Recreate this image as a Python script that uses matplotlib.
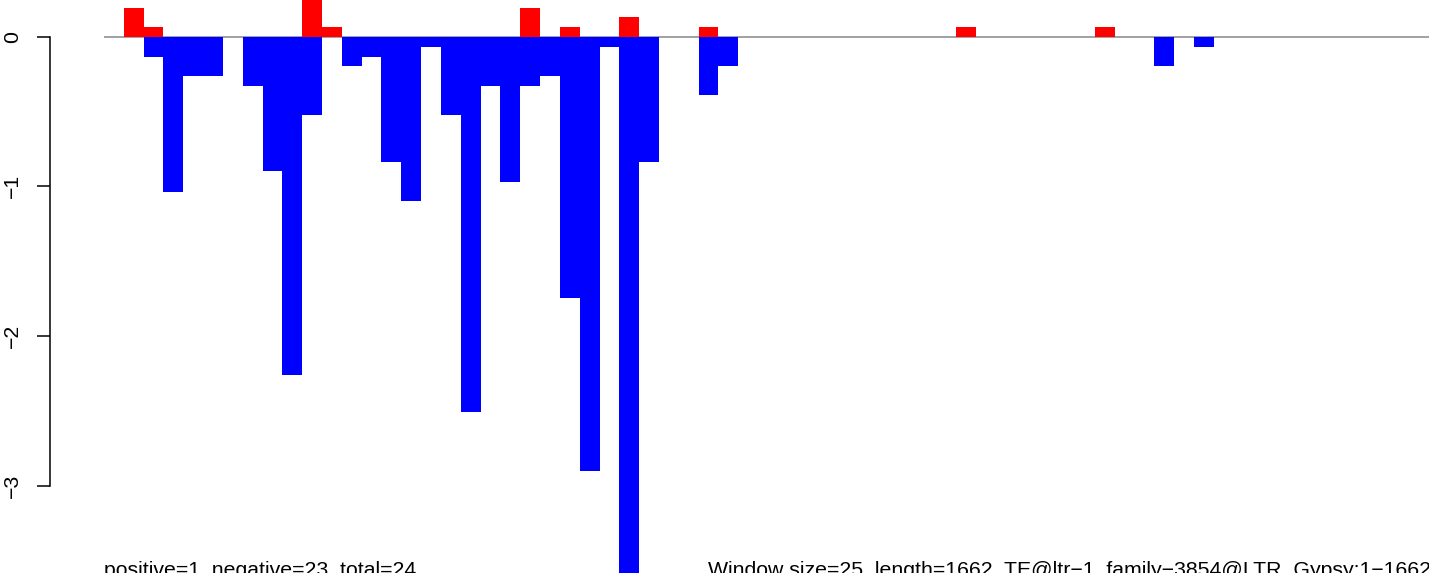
import matplotlib
matplotlib.use("Agg")
import matplotlib.pyplot as plt

plt.rcParams['font.family'] = ['Liberation Sans', 'DejaVu Sans']

# window index -> value
n_windows = 67
pos_idx = [1, 2, 10, 11, 21, 23, 26, 30, 43, 50]
pos_vals = [0.19, 0.065, 0.26, 0.065, 0.19, 0.065, 0.13, 0.065, 0.065, 0.065]
neg_idx = [2, 3, 4, 5, 7, 8, 9, 10, 12, 13, 14, 15, 16, 17, 18, 19, 20,
           21, 22, 23, 24, 25, 26, 27, 30, 31, 53, 55]
neg_vals = [-0.134, -1.035, -0.26, -0.26, -0.327, -0.90, -2.26, -0.52,
            -0.196, -0.134, -0.84, -1.10, -0.069, -0.52, -2.51, -0.327,
            -0.97, -0.327, -0.26, -1.743, -2.90, -0.069, -3.75, -0.84,
            -0.39, -0.196, -0.196, -0.069]
yticks = [0, -1, -2, -3]
left_text = "positive=1, negative=23, total=24"
right_text = "Window size=25, length=1662, TE@ltr\u22121_family\u22123854@LTR_Gypsy:1\u22121662"

W, H = 1429, 573
fig = plt.figure(figsize=(W / 100, H / 100), dpi=100)
ax = fig.add_axes([0, 0, 1, 1])

# pixel geometry of the original
x0, bw = 104.0, 19.82      # left edge of window 0, px per window
y0, yu = 36.7, 149.7       # px of y=0, px per unit
ax.set_xlim(-x0 / bw, (W - x0) / bw)
ax.set_ylim(-(H - y0) / yu, y0 / yu)

ax.hlines(0, 0, n_windows, color="#999999", lw=1.3, zorder=1)
ax.bar(pos_idx, pos_vals, width=1, align="edge", color="#FF0000", lw=0, zorder=2)
ax.bar(neg_idx, neg_vals, width=1, align="edge", color="#0000FF", lw=0, zorder=2)

for s in ["top", "right", "bottom"]:
    ax.spines[s].set_visible(False)
ax.spines["left"].set_position(("data", (50 - x0) / bw))
ax.spines["left"].set_bounds(-3, 0)
ax.spines["left"].set_linewidth(1.1)
ax.set_xticks([])
ax.set_yticks(yticks)
ax.set_yticklabels([f"{t:d}".replace("-", "\u2212") for t in yticks],
                   rotation=90, va="center", fontsize=15.3)
ax.tick_params(axis="y", length=9.4, width=1.1, pad=11)

# the original is cropped at the bottom, so these sit on the edge
fig.text(x0 / W, -3.0 / H, left_text, fontsize=15.3, va="baseline", ha="left")
fig.text(708 / W, -3.0 / H, right_text, fontsize=15.3, va="baseline", ha="left")

fig.savefig("out.png", dpi=100)
